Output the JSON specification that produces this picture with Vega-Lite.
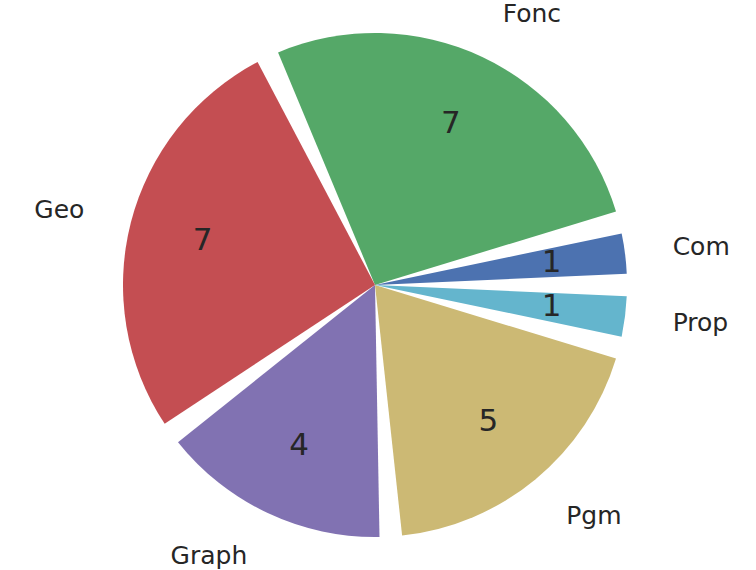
{
  "$schema": "https://vega.github.io/schema/vega-lite/v6.json",
  "width": 750,
  "height": 570,
  "autosize": "none",
  "padding": 0,
  "background": "white",
  "config": {"view": {"stroke": null}, "font": "DejaVu Sans"},
  "data": {"values": [
    {"cat": "Com", "value": 1},
    {"cat": "Fonc", "value": 7},
    {"cat": "Geo", "value": 7},
    {"cat": "Graph", "value": 4},
    {"cat": "Pgm", "value": 5},
    {"cat": "Prop", "value": 1}
  ]},
  "encoding": {
    "theta": {"field": "value", "type": "quantitative", "stack": true, "scale": {"range": [1.5708, 7.854]}},
    "order": {"field": "cat", "sort": "descending"}
  },
  "layer": [
    {
      "mark": {"type": "arc", "outerRadius": 252, "padAngle": 0.09},
      "encoding": {
        "color": {"field": "cat", "type": "nominal", "legend": null,
          "scale": {"domain": ["Com", "Fonc", "Geo", "Graph", "Pgm", "Prop"],
                    "range": ["#4C72B0", "#55A868", "#C44E52", "#8172B2", "#CCB974", "#64B5CD"]}}
      }
    },
    {
      "mark": {"type": "text", "radius": 178, "fontSize": 31, "color": "#262626"},
      "encoding": {"text": {"field": "value", "type": "quantitative"}}
    },
    {
      "mark": {"type": "text", "radius": 300, "fontSize": 25, "color": "#262626",
        "align": {"expr": "datum.cat == 'Geo' || datum.cat == 'Graph' ? 'right' : 'left'"}},
      "encoding": {"text": {"field": "cat", "type": "nominal"}}
    }
  ]
}
